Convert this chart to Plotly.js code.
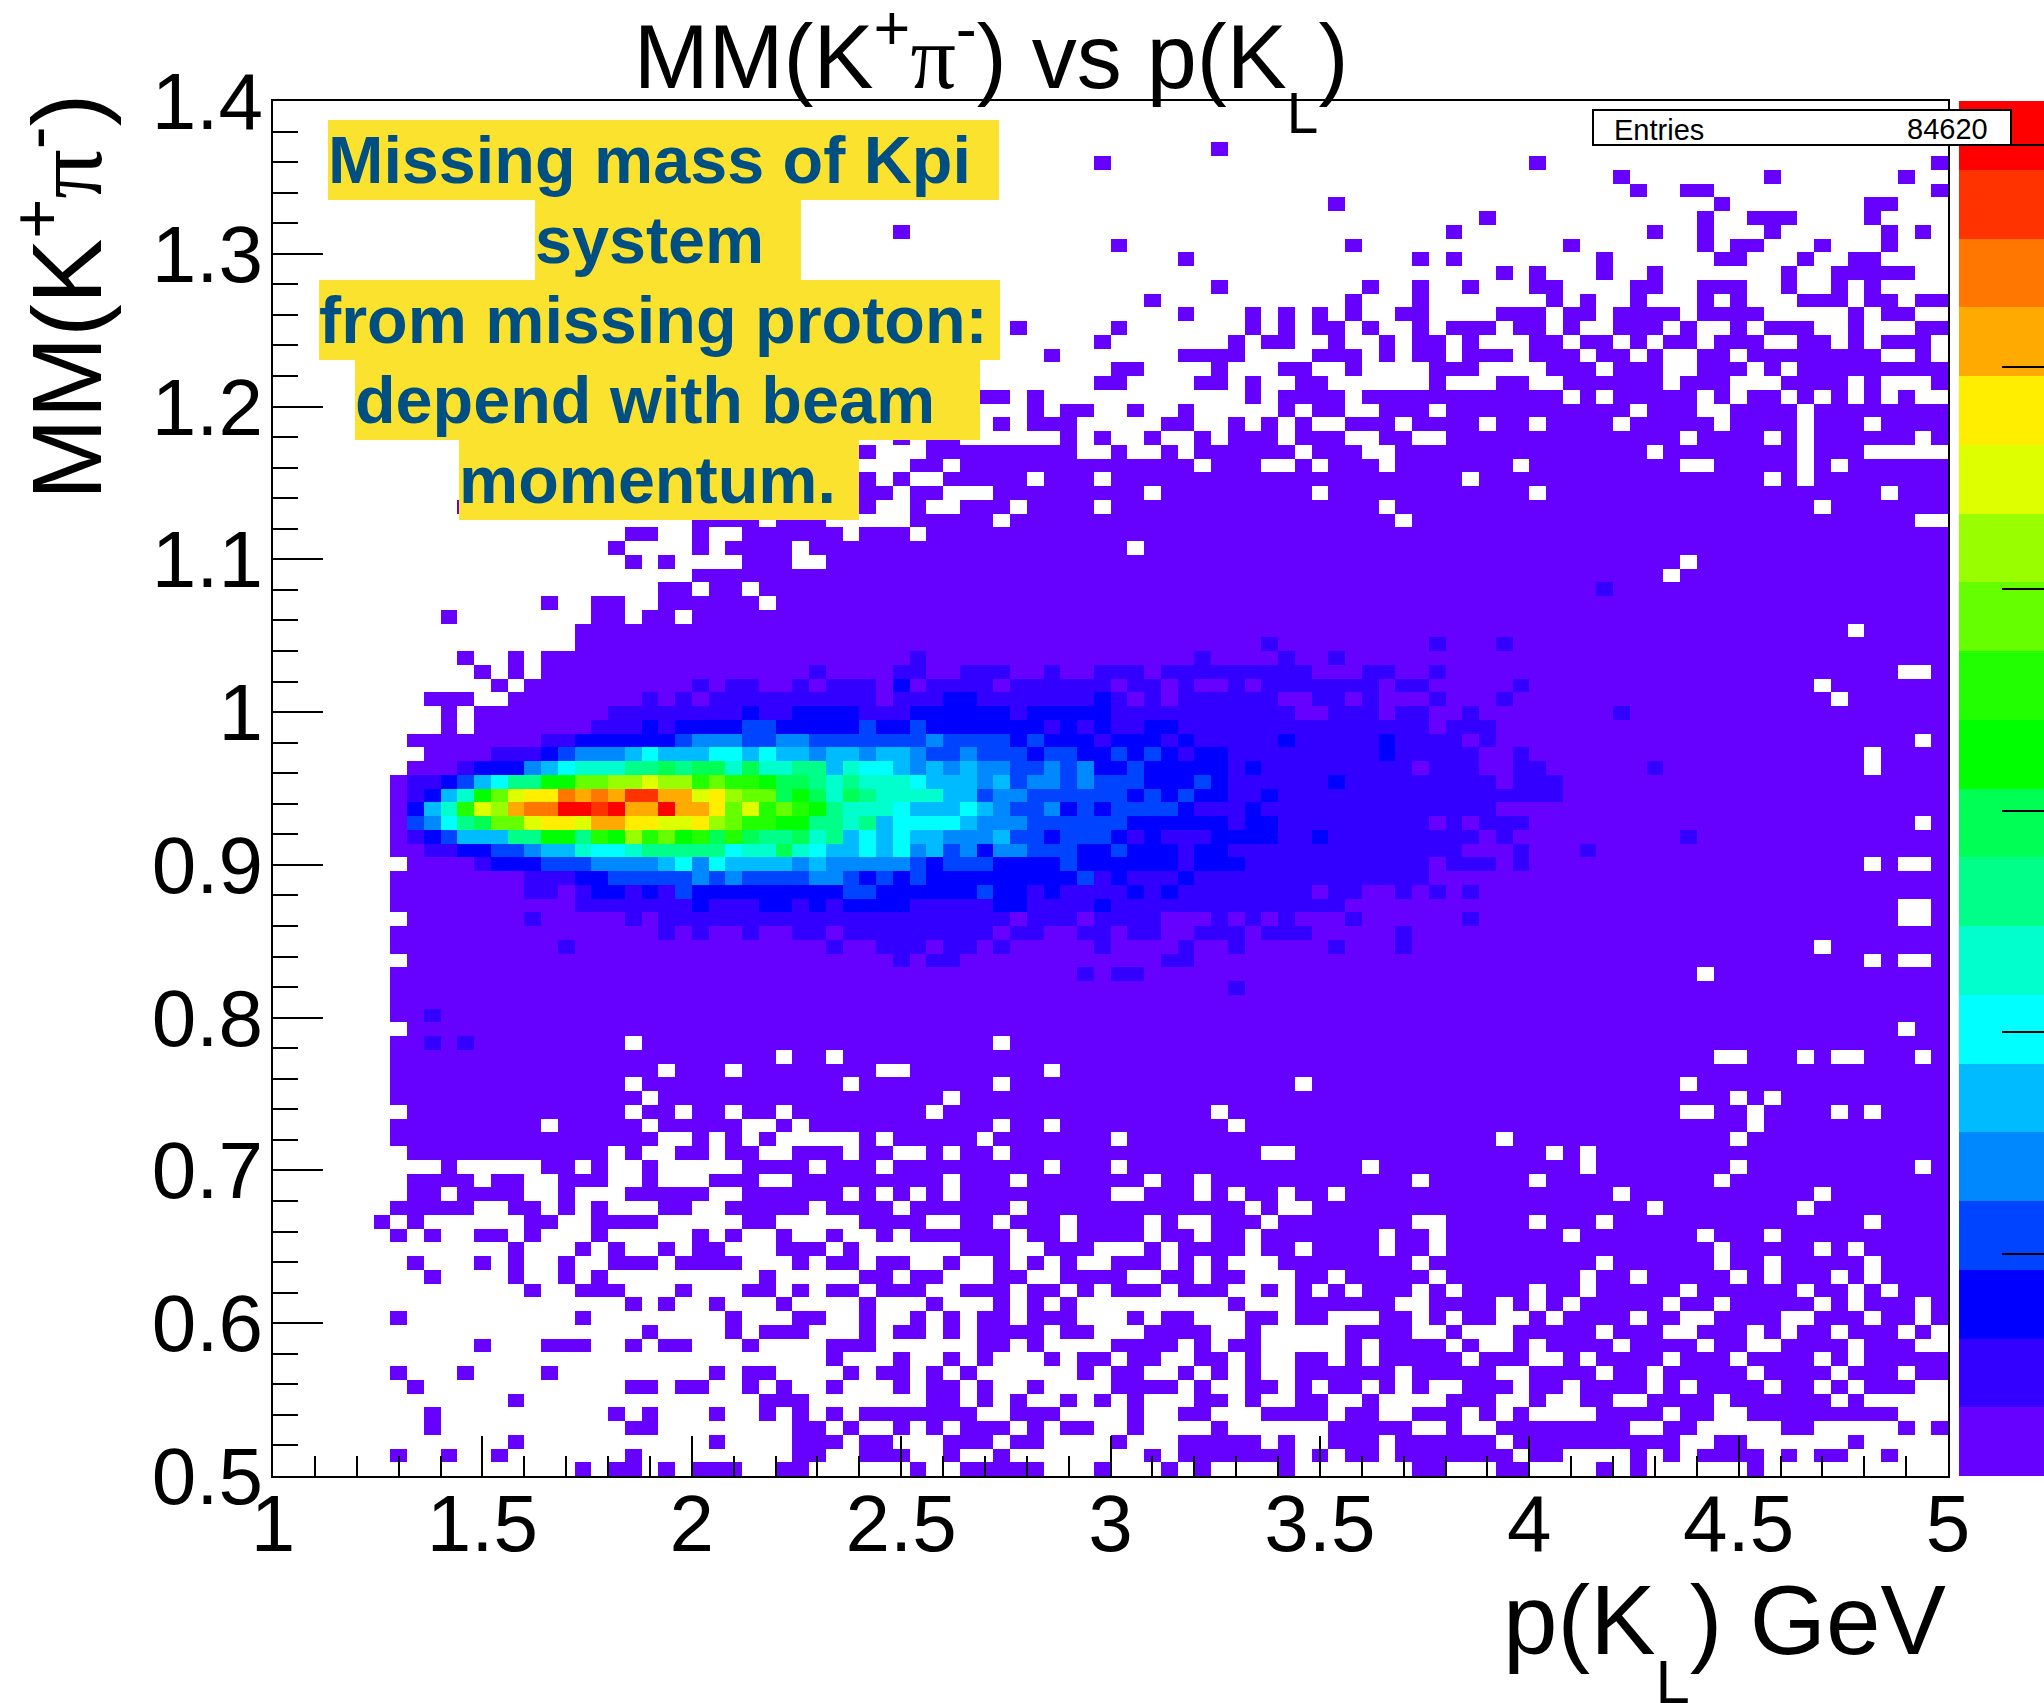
<!DOCTYPE html>
<html>
<head>
<meta charset="utf-8">
<script src="https://cdn.plot.ly/plotly-3.0.1.min.js"></script>
<style>html,body{margin:0;padding:0;background:#fff;overflow:hidden}#chart{width:2044px;height:1703px}</style>
</head>
<body>
<div id="chart"></div>
<script>
// Colour levels of the palette, lowest first
const paletteColors = ['#6600ff','#3300ff','#0000ff','#0044ff','#0088ff','#00bbff','#00ffff','#00ffcc','#00ff88','#00ff55',
  '#00ff00','#22ff00','#66ff00','#99ff00','#ddff00','#ffee00','#ffaa00','#ff7700','#ff3300','#ff0000'];
const maxCount = 62;
const entriesLabel = 'Entries';
const entriesValue = '84620';
const noteLines = ['Missing mass of Kpi', 'system', 'from missing proton:', 'depend with beam', 'momentum.'];
const xBinCount = 100, yBinCount = 100, xLow = 1, xHigh = 5, yLow = 0.5, yHigh = 1.4;
// Histogram, one string per y bin, from the top bin down.
// "a-b" = x bins a..b at the lowest level; ":L" gives the colour level (base 36), a later token overrides an earlier one.
const binRows = [
"","","",
"56",
"49 75 99",
"80 89 97",
"81 84-85 99",
"63 86 95-96",
"72 85 88-90 95",
"37 70 82 85 89 96 98",
"50 64 77 85 87-88 92 96",
"54 68 70 79 86-87 91 94-95",
"73 75 79 82 90 93-97",
"56 65 68 71 75-76 81-82 85-87 90 93 95",
"52 64 68 76 78 81 85 87 91-93 95-96 98-99",
"54 58 60 62 64 67-68 73-75 77-78 80-83 85-88 94 96-97",
"44 50 58 60 62-63 65 68 70-72 74-75 77 80-82 84 87 89-91 94 98-99",
"49 57 59-60 63 66 68-69 71 75-76 78-79 81 83-84 86-88 91-92 94 96-98",
"46 54-57 62-64 66 68-69 71-73 75-77 79-80 82 85-86 88-95 98",
"50-51 56 60-61 64 69-71 76-78 80-82 85-87 89 91-99",
"49-50 55-56 58 61-62 69 73-74 77-82 84-86 90-93 95 99",
"42-43 45 58 60-63 65-76 78 80-84 86 88-89 91 93 95 97",
"45 47-48 51 54 60 62-63 66-68 70-80 82-84 87-90 92-99",
"43 45-47 53-54 57 59 61 64-66 68-71 73-74 76-79 81-85 87-90 92-94 96-99",
"37 39-40 47 49 52 55 57-59 61-63 66-67 70-83 85-88 90 92-97 99",
"35 39-47 50 53 55-60 62-64 67-81 83-90 92-94",
"38-39 41-54 56-58 61 63-65 67-73 75-83 86-90 92 94-99",
"35 37 40-44 46-48 50-70 72-88 90 92-99",
"35-36 38-39 43-51 53-61 63-74 76-95 97-99",
"11 35 38 41-43 45-48 50-65 67-91 93-99",
"25-28 30-32 38-42 44-66 68-97",
"21-22 25 28-33 35-37 39-99",
"20 25 27-30 32-50 52-99",
"21 23 28-30 33-83 85-99",
"25-82 84-99",
"23-24 26-27 29-99 79:2",
"16 19-20 23-28 30-99",
"10 19-20 22-23 25-99",
"18-93 95-99",
"18-99 59:2 69:2 73:2",
"11 14 16-99 38:2 55:2 60:2 63:2",
"12 14 16-96 99 32:2 37-38:2 41-43:2 46:2 49-51:2 53-61:2 65-66:2 69:2",
"13 15-91 93-99 25:2 27-28:2 31:2 33-35:2 37:3 39-42:2 44-49:2 51-52:2 54:2 57:2 59-65:2 67-68:2 74:2",
"9-11 14-92 94-99 22:2 24:2 26-35:2 37-39:2 40-41:3 42-48:2 49:3 50:2 52:2 54-59:2 62-63:2 65:2 69:2 73:2",
"10 12-99 20-27:2 28:3 29-30:2 31-34:3 35-37:2 38-43:3 44:2 45-49:3 50-60:2 63-65:2 67-68:2 71:2 80:2",
"10 12-99 19-21:2 22:3 23:2 24-27:3 28-29:4 30-34:3 35:4 36-37:3 38:4 39-45:3 46:2 47:3 48:2 49:3 50-51:2 52-53:3 54-68:2 70-72:2",
"8-97 99 16-17:2 18-23:3 24:4 25-27:5 28-29:4 30-31:5 32-38:4 39:5 40-43:4 44:3 45:4 46-48:3 49:2 50-52:3 53:2 54:3 55-59:2 60:3 61-65:2 66:3 67-70:2 72:2",
"9-94 96-99 13-15:2 16:3 17:4 18-20:5 21:6 22:7 23-25:6 26-27:7 28:6 29:7 30-31:6 32:5 33-34:6 35:5 36-37:6 38:5 39-40:4 41:5 42-44:4 45:3 46-47:4 48-49:3 50:4 51:3 52:4 53:3 54:2 55-56:3 57-65:2 66:3 67-71:2 74:2",
"8-94 96-99 11:2 12-14:3 15:5 16:6 17:7 18-20:8 21-22:9 23:a 24:9 25-26:a 27:8 28:a 29-30:8 31-32:9 33:6 34:8 35-36:7 37:6 38:5 39:6 40:5 41:6 42-43:5 44-45:4 46:5 47:4 48:5 49-50:3 51:4 52-56:3 57:2 58:3 59-67:2 69-71:2 74-75:2 82:2",
"7-99 8-9:2 10:3 11:4 12:6 13:7 14-15:9 16-17:b 18-19:d 20-21:e 22:f 23-24:e 25:c 26:d 27-28:c 29:b 30-31:a 32:9 33:8 34:9 35-37:8 38:7 39-41:6 42:5 43:6 44:4 45-46:5 47:4 48:5 49-51:4 52-54:3 55:4 56:3 57-62:2 63:3 64-72:2 74-76:2",
"7-99 8:2 9:3 10:6 11:8 12:b 13:d 14:f 15-16:g 17:i 18:h 19:i 20:h 21-22:j 23-24:h 25:f 26:g 27:e 28-29:d 30:a 31:b 32:a 33:8 34:a 35:9 36-39:8 40-41:6 42:4 43-44:5 45-50:4 51:3 52:4 53:3 54:4 55-56:3 57-58:2 59:3 60-76:2",
"7-99 8:3 9:6 10:8 11:c 12:f 13:e 14:h 15-16:i 17-18:k 19:j 20:k 21-22:h 23:k 24-25:h 26:g 27:d 28:f 29:c 30:d 31:c 32:b 33:9 34-36:8 37:7 38-40:6 41:7 42:6 43:5 44-45:4 46:5 47:3 48:4 49:3 50-53:4 54:3 55-57:2 58:3 59-72:2",
"7-97 99 8:4 9:5 10:7 11:9 12:a 13-14:d 15:f 16-17:g 18:f 19-20:h 21-22:g 23-24:f 25:g 26:e 27:d 28-29:c 30-31:b 32-33:9 34:8 35:9 36:6 37-40:7 41:6 42-44:5 45-50:4 51-56:3 57:2 58-59:3 60-68:2 70:2 72-74:2",
"7-99 8:2 9:3 10:4 11-13:6 14-15:9 16-17:b 18:9 19:c 20:b 21:e 22:c 23:d 24:b 25:c 26:a 27:c 28:a 29-30:9 31:a 32:8 33:9 34:6 35:7 36:6 37:7 38-39:6 40-42:5 43:6 44-45:4 46:3 47-49:4 50:3 51:2 52:3 53-55:2 56-59:3 60-61:2 62:3 63-71:2 73:2 84:2",
"7-99 9-10:2 11-12:3 13-14:4 15:5 16-17:6 18:8 19-20:7 21:8 22-26:9 27:7 28-29:8 30:a 31:8 32:7 33-34:6 35:7 36:6 37:7 38:5 39:6 40:4 41:5 42:3 43-44:5 45-47:4 48-49:3 50:4 51-53:3 54:2 55-56:3 57-70:2 74:2 78:2",
"8-94 96 99 12:2 13-15:3 16-18:4 19-22:5 23:6 24:7 25:5 26:7 27-30:6 31:5 32:6 33-37:5 38:4 39:3 40-42:4 43-46:3 47:4 48-53:3 54:2 55-57:3 58-68:2 70-72:2 74:2",
"7-99 15-17:2 18-19:3 20-24:4 25:5 26:4 27:5 28-31:4 32-33:5 34:4 35:3 36:4 37:3 38:4 39-47:3 48:4 49:2 50:3 51-53:2 54:3 55-68:2",
"7-99 15-16:2 18:2 19-20:3 21:2 22:3 23:2 24:4 25-33:3 34-35:4 36-41:3 42:4 43-44:3 45:2 46:3 47-50:2 51:3 52:2 53:3 54-61:2 63-64:2 67:2 69:2 71:2",
"7-96 99 18-24:2 25:3 26-28:2 29-30:3 31:2 32:3 33:2 34-37:3 38-42:2 43-44:3 45-48:2 49:3 50-63:2",
"8-96 99 15:2 21:2 23-43:2 45-47:2 49-52:2 56:2 58:2 60:2 64:2 71:2",
"7-99 23:2 25:2 28:2 31-32:2 34-42:2 44-45:2 48-49:2 51-52:2 55-57:2 59-61:2 67:2",
"7-91 93-99 17:2 33:2 36-38:2 40-41:2 43:2 49:2 54:2 57:2 63:2 67:2",
"8-94 96 99 37:2 39-40:2 53-54:2",
"7-84 86-99 48:2 50-51:2",
"7-99 57:2",
"7-99",
"7-99 9:2",
"8-96 98-99",
"7-20 22-42 44-99 9:2 11:2",
"7-29 31-32 34-85 88-90 92 95-97 99",
"7-22 24-26 28-35 38-45 47-99",
"7-20 22-33 35-42 44-60 62-83 85-99",
"7-21 23-39 41-86 88 90-99",
"8-20 22-23 25-26 28-29 31-38 40-55 57-83 86-87 89-92 94 96-99",
"7-15 17-21 23-27 30 32-42 44-45 47-56 58-87 89-99",
"7-22 25 27 29 35 37-41 43-49 51-72 74-86 88-99",
"8-19 21 24-25 27-28 31-33 35-36 39 41-42 44-58 61-75 77 79-99",
"10 16-17 19 22 28-31 33-35 37-45 47-49 51-64 66-77 79-86 88-97 99",
"8-11 13-14 17-19 22 26-28 31-39 41-43 45-51 53-54 56-67 69-74 76-85 87-99",
"8-9 11-14 17 21-25 28-33 35 37 39 41-49 52-54 56 58-59 61-62 64-79 81-91 93-99",
"7-11 14-15 17 19 23-24 27-31 33-36 38-43 45-57 59 62-81 83-90 92-99",
"6 8 15-16 19-22 28-29 35-38 41-42 44-46 48-51 53 56-58 60-67 70-74 76-78 80-94 96-99",
"7 9 12-13 15 19 25 27 30 33 36 38-43 45-46 48-51 53-54 56-57 59-65 67-68 70-76 78-84 86-88 90-99",
"14 18 20 23 25-26 30-32 34 41-43 46-48 52 54-57 59-60 62-65 67-68 70-85 87-91 93 95-99",
"8 12 14 17 20-22 24-27 31 33-34 36-37 40 43 45 47 50-52 54 56 60-67 69-78 80-85 87-88 90-94 96-99",
"9 14 17 19 29 35-36 38-39 43-44 47-50 53-54 56-57 61-62 64-68 70-77 79-80 82-86 88 90-92 94 96-99",
"15 18-20 24 28-29 31 33-34 36-38 41-43 45-46 48 50-52 54-56 59 61 63 65-67 69 71-74 76-77 79-83 85-90 92-93 95 97-99",
"21 23 26 30 35 39 43 45 47 57 61-66 69-72 74 76 78-82 84-85 87-91 93 95-97 99",
"7 18 27 31-32 35 38 40 42-43 45-47 51 53-54 58-59 61-62 66-67 69 71-72 75 77-80 82-83 86-89 92-94 96-97 99",
"22 27 29-31 35 37-38 40 42-45 47-48 52-55 58 64-67 70 74-78 80-82 85-87 89 91-92 94-96 98",
"12 16-18 21 23-24 28 33-35 42-43 45 50-53 55 57-58 64 66-69 71 74 76-79 81-84 86-87 90-93 95-97",
"33 37 40 42 46 48-49 51-52 55-56 58 61-62 64 66-70 72-74 77 79-82 84-86 88-91 93 95-99",
"7 11 16 26 28-29 34 36-37 39 41 48 50-51 54 56 58 61-66 68-72 75-78 80-81 83-87 89-92 94-96 98-99",
"8 21-22 24-25 28 30 33 37 39-40 42 45 50-53 55 58-59 61 63-64 66 68 71-73 75-76 78-81 83 85-88 90-91 93 95-97",
"14 29-31 39-40 42 44 47 49 51 55-56 58 61-62 65 70-72 75 78-79 82-85 87-92 94",
"9 20 22 26 29 31 33 35-41 44-46 51 54-55 59-62 64-65 68-70 72 74 79-82 84-85 88-96",
"9 21-22 31-32 34 37 39 41-43 45 47-48 51 56 63-67 70 73-80 83-84 90-91 97 99",
"14 26 31-33 35-36 40-42 44-45 50 54-58 60 63-65 67-72 74-83 86-87 94",
"7 10 13 21 31-32 35-37 40 43 52 54-60 62 64-65 67-73 75-76 81 83 85-88 90 92-93 96",
"18 20-21 23 25-27 30-31 38 41-45 49 53 55 60 68-69 73-74 79 81 88"
];

// Turn the row strings into the count grid (null = empty bin, left white)
const levelStep = maxCount / paletteColors.length;
const zGrid = [];
binRows.forEach(function (row) {
  const cells = new Array(xBinCount).fill(null);
  row.split(' ').filter(Boolean).forEach(function (token) {
    const parts = token.split(':');
    const ends = parts[0].split('-').map(Number);
    const level = parts[1] ? parseInt(parts[1], 36) : 1;
    for (let c = ends[0]; c <= (ends.length > 1 ? ends[1] : ends[0]); c++) {
      cells[c] = (level - 0.5) * levelStep;
    }
  });
  zGrid.unshift(cells); // y axis runs upward, rows were read downward
});
const xCenters = Array.from({length: xBinCount}, (_, i) => xLow + (i + 0.5) * (xHigh - xLow) / xBinCount);
const yCenters = Array.from({length: yBinCount}, (_, i) => yLow + (i + 0.5) * (yHigh - yLow) / yBinCount);
const colorscale = [];
paletteColors.forEach(function (c, i) {
  colorscale.push([i / paletteColors.length, c]);
  colorscale.push([(i + 1) / paletteColors.length, c]);
});

// Page geometry (pixels in the 2044x1703 page)
const L = 273, R = 1948, T = 101, B = 1476;
const px = x => (x - L) / (R - L);
const py = y => (B - y) / (B - T);
const FONT = '"Liberation Sans", Arial, sans-serif';
const PI = '<span style="font-family:\'Liberation Serif\',serif">π</span>';
const LOWSUB = '<sub><span style="baseline-shift:-0.45em;font-size:90%">L</span></sub>';

const noteBoxes = [[328, 999, 120], [535, 801, 200], [319, 1000, 280], [355, 980, 360], [459, 859, 440]];
const noteAnns = noteLines.map(function (t, i) {
  const b = noteBoxes[i];
  return {xref: 'paper', yref: 'paper', x: px(b[0]), y: py(b[2]), xanchor: 'left', yanchor: 'top',
    width: b[1] - b[0], height: 80, align: 'left', valign: 'middle', showarrow: false, borderpad: 0, borderwidth: 0,
    bgcolor: '#fae22f', text: t,
    font: {family: FONT, size: 66.5, color: '#004f82', weight: 700}};
});

const annotations = noteAnns.concat([
  {xref: 'paper', yref: 'paper', x: px(1592), y: py(109), xanchor: 'left', yanchor: 'top', width: 416, height: 33,
   align: 'left', valign: 'middle', showarrow: false, bgcolor: '#ffffff', bordercolor: '#000000', borderwidth: 2, borderpad: 0,
   text: '\u00a0', font: {family: FONT, size: 29, color: '#000'}},
  {xref: 'paper', yref: 'paper', x: px(1612), y: py(111), xanchor: 'left', yanchor: 'top', height: 33, valign: 'middle',
   showarrow: false, text: entriesLabel, font: {family: FONT, size: 29, color: '#000'}},
  {xref: 'paper', yref: 'paper', x: px(1990), y: py(110), xanchor: 'right', yanchor: 'top', height: 33, valign: 'middle',
   showarrow: false, text: entriesValue, font: {family: FONT, size: 29, color: '#000'}},
  {xref: 'paper', yref: 'paper', x: px(1948), y: py(1563), xanchor: 'right', yanchor: 'top', showarrow: false,
   text: 'p(K' + LOWSUB + ') GeV', font: {family: FONT, size: 98, color: '#000'}},
  {xref: 'paper', yref: 'paper', x: px(60), y: py(92), xanchor: 'center', yanchor: 'top', textangle: -90, showarrow: false,
   text: 'MM(K<sup>+</sup>' + PI + '<sup>-</sup>)', font: {family: FONT, size: 98, color: '#000'}}
]);

const trace = {
  type: 'heatmap', x: xCenters, y: yCenters, z: zGrid, zmin: 0, zmax: maxCount, zsmooth: false,
  colorscale: colorscale, hoverongaps: false,
  colorbar: {x: (1959 - L) / (R - L), xanchor: 'left', xpad: 0, y: 0, yanchor: 'bottom', ypad: 0, len: 1, lenmode: 'fraction',
    thickness: 85, thicknessmode: 'pixels', outlinewidth: 0, borderwidth: 0,
    tick0: 0, dtick: 10, tickmode: 'linear', ticks: 'inside', ticklen: 42, tickwidth: 2, tickcolor: '#000', showticklabels: false}
};

const layout = {
  width: 2044, height: 1703, paper_bgcolor: '#fff', plot_bgcolor: '#fff', showlegend: false,
  margin: {l: L, r: 2044 - R, t: T, b: 1703 - B, pad: 0, autoexpand: false},
  font: {family: FONT, color: '#000'},
  title: {text: 'MM(K<sup>+</sup>' + PI + '<sup>-</sup>) vs p(K' + LOWSUB + ')', font: {family: FONT, size: 90, color: '#000'},
    x: 991 / 2044, xanchor: 'center', xref: 'container', y: 1 - 88 / 1703, yanchor: 'bottom', yref: 'container'},
  xaxis: {range: [xLow, xHigh], tick0: 1, dtick: 0.5, ticks: 'inside', ticklen: 40, tickwidth: 2, tickcolor: '#000',
    minor: {dtick: 0.1, ticks: 'inside', ticklen: 20, tickwidth: 2, tickcolor: '#000'},
    showline: true, mirror: true, linecolor: '#000', linewidth: 2, showgrid: false, zeroline: false,
    tickfont: {family: FONT, size: 80, color: '#000'}, ticklabelstandoff: -23},
  yaxis: {range: [yLow, yHigh], tick0: 0.5, dtick: 0.1, ticks: 'inside', ticklen: 50, tickwidth: 2, tickcolor: '#000',
    minor: {dtick: 0.02, ticks: 'inside', ticklen: 25, tickwidth: 2, tickcolor: '#000'},
    showline: true, mirror: true, linecolor: '#000', linewidth: 2, showgrid: false, zeroline: false,
    tickfont: {family: FONT, size: 80, color: '#000'}, ticklabelstandoff: -8},
  annotations: annotations
};

Plotly.newPlot('chart', [trace], layout, {displayModeBar: false, staticPlot: true});
</script>
</body>
</html>
